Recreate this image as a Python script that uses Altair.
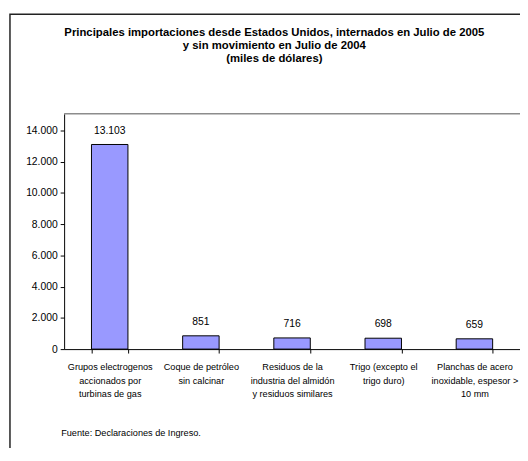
import altair as alt
import pandas as pd

# ---- data ----
categories = [
    "Grupos electrogenos|accionados por|turbinas de gas",
    "Coque de petróleo|sin calcinar",
    "Residuos de la|industria del almidón|y residuos similares",
    "Trigo (excepto el|trigo duro)",
    "Planchas de acero|inoxidable, espesor >|10 mm",
]
values = [13103, 851, 716, 698, 659]
y_ticks = [0, 2000, 4000, 6000, 8000, 10000, 12000, 14000]
title_lines = [
    "Principales importaciones desde Estados Unidos, internados en Julio de 2005",
    "y sin movimiento en Julio de 2004",
    "(miles de dólares)",
]
footer = "Fuente: Declaraciones de Ingreso."

FONT = "Liberation Sans"
W, H = 463, 239

df = pd.DataFrame({"cat": categories, "value": values})
one = pd.DataFrame({"k": [0]})

base = alt.Chart(df)

xenc = alt.X(
    "cat:N",
    sort=None,
    scale=alt.Scale(paddingInner=0.6, paddingOuter=0.3),
    axis=alt.Axis(
        title=None,
        labelExpr="split(datum.label, '|')",
        labelAngle=0,
        labelFont=FONT,
        labelFontSize=9.3,
        labelColor="black",
        labelLineHeight=13.5,
        labelPadding=10,
        labelLimit=0,
        labelOverlap=False,
        tickBand="extent",
        tickSize=4,
        tickColor="black",
        domainColor="black",
        grid=False,
    ),
)
yenc = alt.Y(
    "value:Q",
    scale=alt.Scale(domain=[0, 15070], nice=False),
    axis=alt.Axis(
        title=None,
        values=y_ticks,
        labelExpr="replace(format(datum.value, ',d'), ',', '.')",
        labelFont=FONT,
        labelFontSize=10.5,
        labelColor="black",
        labelPadding=3,
        labelOverlap=False,
        tickSize=4,
        tickColor="black",
        domainColor="black",
        grid=False,
    ),
)

bars = base.mark_bar(fill="#9999FF", stroke="black", strokeWidth=1).encode(x=xenc, y=yenc)

labels = base.transform_calculate(
    lbl="replace(format(datum.value, ',d'), ',', '.')"
).mark_text(
    font=FONT, fontSize=10.5, color="black", baseline="alphabetic", dy=-11
).encode(x=xenc, y=yenc, text="lbl:N")

frame = alt.Chart(one).mark_rect(
    fillOpacity=0, stroke="#222222", strokeWidth=1.5
).encode(
    x=alt.value(-55), y=alt.value(-101), x2=alt.value(520), y2=alt.value(400)
)

top_border = alt.Chart(one).mark_rule(color="#8c8c8c", strokeWidth=1.5).encode(
    x=alt.value(0), x2=alt.value(W), y=alt.value(0)
)

title_layers = []
for i, line in enumerate(title_lines):
    title_layers.append(
        alt.Chart(one).mark_text(
            text=line, font=FONT, fontSize=11.5, fontWeight="bold", color="black",
            align="center", baseline="middle",
        ).encode(x=alt.value(213.5), y=alt.value(-82.5 + 13.3 * i))
    )

foot = alt.Chart(one).mark_text(
    text=footer, font=FONT, fontSize=9.3, color="black", align="left", baseline="middle"
).encode(x=alt.value(-3), y=alt.value(324))

chart = alt.layer(frame, top_border, bars, labels, foot, *title_layers).properties(
    width=W,
    height=H,
    padding={"left": 57, "top": 104, "right": 0, "bottom": 97},
    autosize=alt.AutoSizeParams(type="none"),
    background="white",
).configure_view(stroke=None)

chart.save("out.html", embed_options={"renderer": "svg", "actions": False})
